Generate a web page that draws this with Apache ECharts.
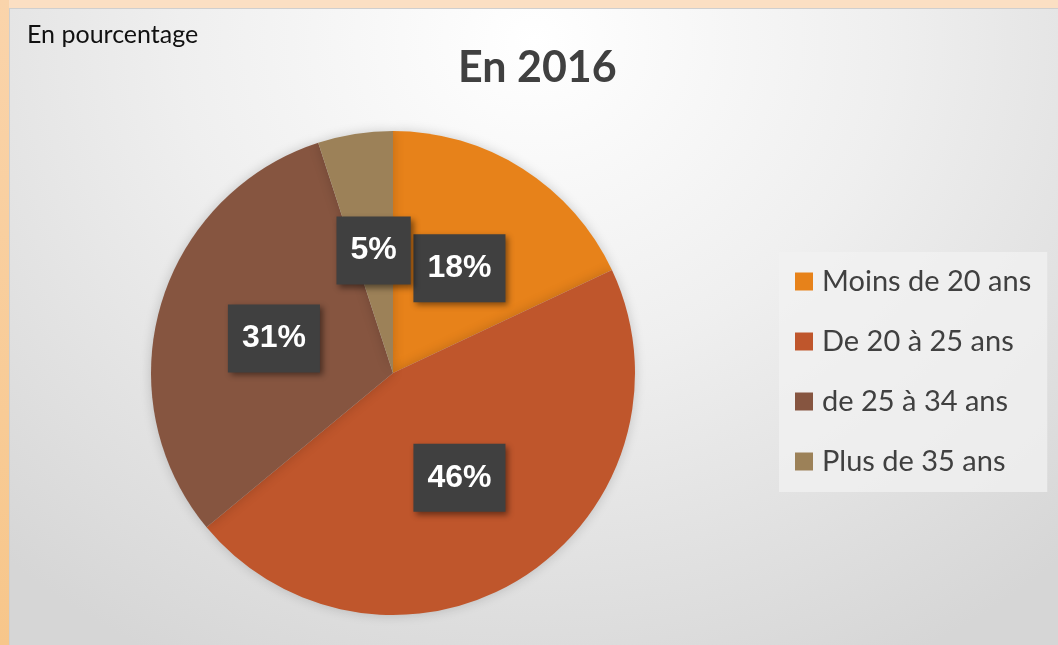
<!DOCTYPE html>
<html>
<head>
<meta charset="utf-8">
<script src="https://cdn.jsdelivr.net/npm/echarts@6/dist/echarts.min.js"></script>
<style>
    html, body {margin: 0; padding: 0; width: 1058px; height: 645px; overflow: hidden;}
    body {background: #fbdfc3;}
    #leftStrip {position: absolute; left: 0; top: 0; width: 9px; height: 645px; background: linear-gradient(#fad4ab, #f7c68a);}
    #main {
        position: absolute; left: 9px; top: 8px; width: 1049px; height: 637px;
        border-top: 1px solid #cfcfcf; border-left: 1px solid #cfcfcf; box-sizing: border-box;
        background: radial-gradient(ellipse 75% 110% at 50% 5%, #ffffff 0%, #efefef 45%, #d6d6d6 100%);
    }
</style>
</head>
<body>
<div id="leftStrip"></div>
<div id="main"></div>
<script>
    // données du graphique
    var categories = ['Moins de 20 ans', 'De 20 à 25 ans', 'de 25 à 34 ans', 'Plus de 35 ans'];
    var values = [18, 46, 31, 5];
    var colors = ['#e7821a', '#bf562c', '#865540', '#9c8158'];

    var myChart = echarts.init(document.getElementById('main'));

    var pieData = [];
    for (var a = 0; a < categories.length; a++) {
        pieData.push({name: categories[a], value: values[a], itemStyle: {color: colors[a]}});
    }

    var option = {
        backgroundColor: 'transparent',
        animation: false,
        title: [
            {
                text: 'En 2016',
                left: 443,
                top: 33,
                textStyle: {fontFamily: 'Lato', fontWeight: 'bold', fontSize: 43, color: '#404040'}
            },
            {
                text: 'En pourcentage',
                left: 12,
                top: 8,
                textStyle: {fontFamily: 'Lato', fontWeight: 'normal', fontSize: 25, color: '#111111'}
            }
        ],
        legend: {
            orient: 'vertical',
            left: 769,
            top: 243,
            icon: 'rect',
            itemWidth: 18,
            itemHeight: 18,
            itemGap: 31,
            padding: [15, 16, 16, 16],
            backgroundColor: 'rgba(242,242,242,0.75)',
            textStyle: {fontFamily: 'Lato', fontSize: 29, color: '#404040', padding: [0, 0, 0, 4]},
            data: categories
        },
        series: [
            {
                type: 'pie',
                center: [383, 364],
                radius: 242,
                startAngle: 90,
                clockwise: true,
                itemStyle: {
                    shadowBlur: 12,
                    shadowColor: 'rgba(0,0,0,0.18)'
                },
                label: {
                    show: true,
                    position: 'inside',
                    formatter: '{d}%',
                    fontFamily: 'Liberation Sans',
                    fontWeight: 'bold',
                    fontSize: 32,
                    lineHeight: 32,
                    color: '#ffffff',
                    backgroundColor: '#404040',
                    padding: [18, 14, 18, 14],
                    shadowColor: 'rgba(0,0,0,0.45)',
                    shadowBlur: 6,
                    shadowOffsetX: 3,
                    shadowOffsetY: 3
                },
                labelLine: {show: false},
                emphasis: {disabled: true},
                data: pieData
            }
        ]
    };

    myChart.setOption(option);
</script>
</body>
</html>
